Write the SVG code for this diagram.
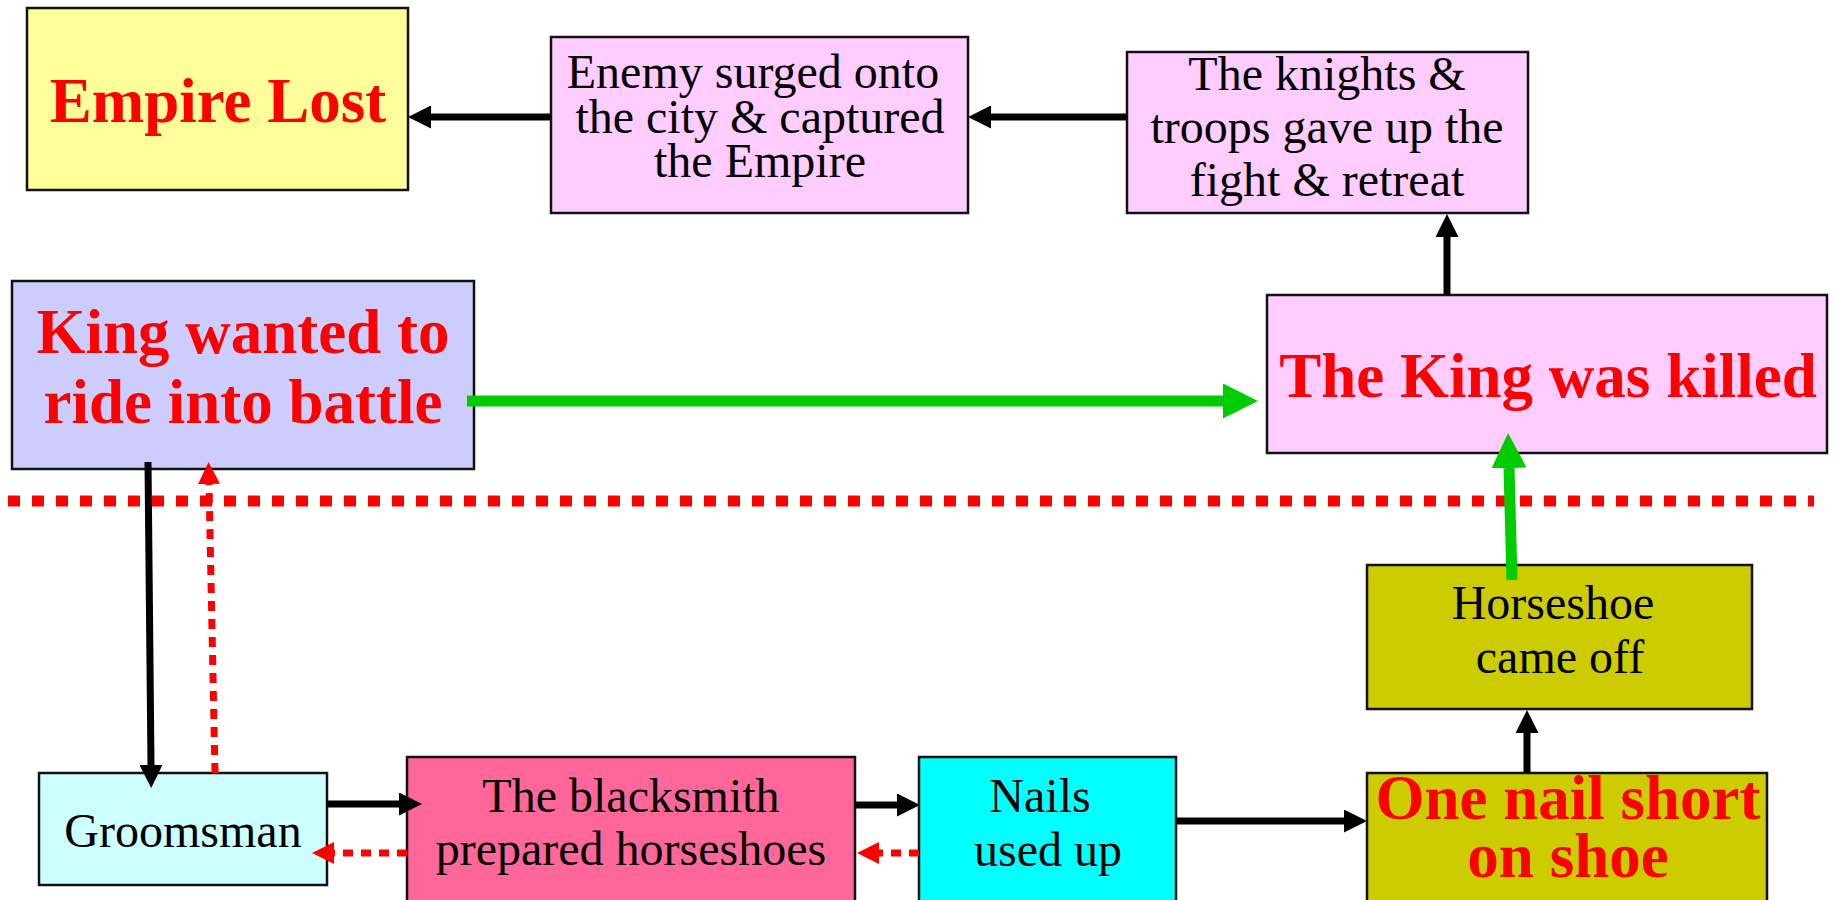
<svg xmlns="http://www.w3.org/2000/svg" width="1835" height="900" viewBox="0 0 1835 900">
<style>
.box{stroke:#111;stroke-width:2.5}
.t{font-family:"Liberation Serif","Times New Roman",serif;font-size:48px;fill:#000;text-anchor:middle}
.b{font-family:"Liberation Serif","Times New Roman",serif;font-size:63px;font-weight:bold;fill:#FF0000;text-anchor:middle}
.blk{stroke:#000;stroke-width:7;fill:none}
.grn{stroke:#00CC00;stroke-width:11;fill:none}
.dot{stroke:#FF0000;stroke-width:7;stroke-dasharray:10 8;fill:none}
</style>
<defs>
<marker id="ab" viewBox="0 0 23 23" refX="0" refY="11.5" markerWidth="23" markerHeight="23" markerUnits="userSpaceOnUse" orient="auto"><path d="M0,0 L23,11.5 L0,23 z" fill="#000"/></marker>
<marker id="ag" viewBox="0 0 35 35" refX="0" refY="17.5" markerWidth="35" markerHeight="35" markerUnits="userSpaceOnUse" orient="auto"><path d="M0,0 L35,17.5 L0,35 z" fill="#00CC00"/></marker>
<marker id="ar" viewBox="0 0 22 22" refX="0" refY="11" markerWidth="22" markerHeight="22" markerUnits="userSpaceOnUse" orient="auto"><path d="M0,0 L22,11 L0,22 z" fill="#FF0000"/></marker>
</defs>
<rect width="1835" height="900" fill="#fff"/>

<g id="empire-lost">
<rect class="box" x="27" y="8" width="381" height="182" fill="#FFFF99"/>
<text class="b" x="218" y="122" font-size="62">Empire Lost</text>
</g>
<g id="enemy">
<rect class="box" x="551" y="37" width="417" height="176" fill="#FFCCFF"/>
<text class="t" x="753" y="88">Enemy surged onto</text>
<text class="t" x="760" y="133">the city &amp; captured</text>
<text class="t" x="760" y="177">the Empire</text>
</g>
<g id="knights">
<rect class="box" x="1127" y="52" width="401" height="161" fill="#FFCCFF"/>
<text class="t" x="1327" y="90">The knights &amp;</text>
<text class="t" x="1327" y="143">troops gave up the</text>
<text class="t" x="1327" y="196">fight &amp; retreat</text>
</g>
<g id="king-wanted">
<rect class="box" x="12" y="281" width="462" height="188" fill="#CCCCFF"/>
<text class="b" x="243" y="353">King wanted to</text>
<text class="b" x="243" y="423">ride into battle</text>
</g>
<g id="king-killed">
<rect class="box" x="1267" y="295" width="560" height="158" fill="#FFCCFF"/>
<text class="b" x="1548" y="397">The King was killed</text>
</g>
<g id="horseshoe">
<rect class="box" x="1367" y="565" width="385" height="144" fill="#CCCC00"/>
<text class="t" x="1553" y="619">Horseshoe</text>
<text class="t" x="1560" y="673">came off</text>
</g>
<g id="groomsman">
<rect class="box" x="39" y="773" width="288" height="112" fill="#CCFFFF"/>
<text class="t" x="183" y="847" font-size="49">Groomsman</text>
</g>
<g id="blacksmith">
<rect class="box" x="407" y="757" width="448" height="160" fill="#FF6699"/>
<text class="t" x="631" y="812" font-size="49">The blacksmith</text>
<text class="t" x="631" y="865" font-size="49">prepared horseshoes</text>
</g>
<g id="nails">
<rect class="box" x="919" y="757" width="257" height="160" fill="#00FFFF"/>
<text class="t" x="1040" y="812">Nails</text>
<text class="t" x="1048" y="866">used up</text>
</g>
<g id="one-nail">
<rect class="box" x="1367" y="773" width="400" height="150" fill="#CCCC00"/>
<text class="b" x="1568" y="819">One nail short</text>
<text class="b" x="1568" y="877">on shoe</text>
</g>

<g id="connectors">
<line x1="8" y1="501" x2="1814" y2="501" stroke="#FF0000" stroke-width="11" stroke-dasharray="12 12"/>
<line class="blk" x1="551" y1="117" x2="431" y2="117" marker-end="url(#ab)"/>
<line class="blk" x1="1127" y1="117" x2="991" y2="117" marker-end="url(#ab)"/>
<line class="blk" x1="1447" y1="295" x2="1447" y2="237" marker-end="url(#ab)"/>
<line class="grn" x1="467" y1="401" x2="1223" y2="401" marker-end="url(#ag)"/>
<line class="grn" x1="1512" y1="580" x2="1509" y2="468" marker-end="url(#ag)"/>
<line class="blk" x1="148" y1="462" x2="151" y2="765" marker-end="url(#ab)"/>
<line class="dot" x1="215" y1="773" x2="209" y2="484" marker-end="url(#ar)"/>
<line class="blk" x1="327" y1="804" x2="399" y2="804" marker-end="url(#ab)"/>
<line class="dot" x1="407" y1="853" x2="334" y2="853" marker-end="url(#ar)"/>
<line class="blk" x1="855" y1="805" x2="897" y2="805" marker-end="url(#ab)"/>
<line class="dot" x1="919" y1="853" x2="879" y2="853" marker-end="url(#ar)"/>
<line class="blk" x1="1176" y1="821" x2="1344" y2="821" marker-end="url(#ab)"/>
<line class="blk" x1="1527" y1="773" x2="1527" y2="733" marker-end="url(#ab)"/>
</g>
</svg>
